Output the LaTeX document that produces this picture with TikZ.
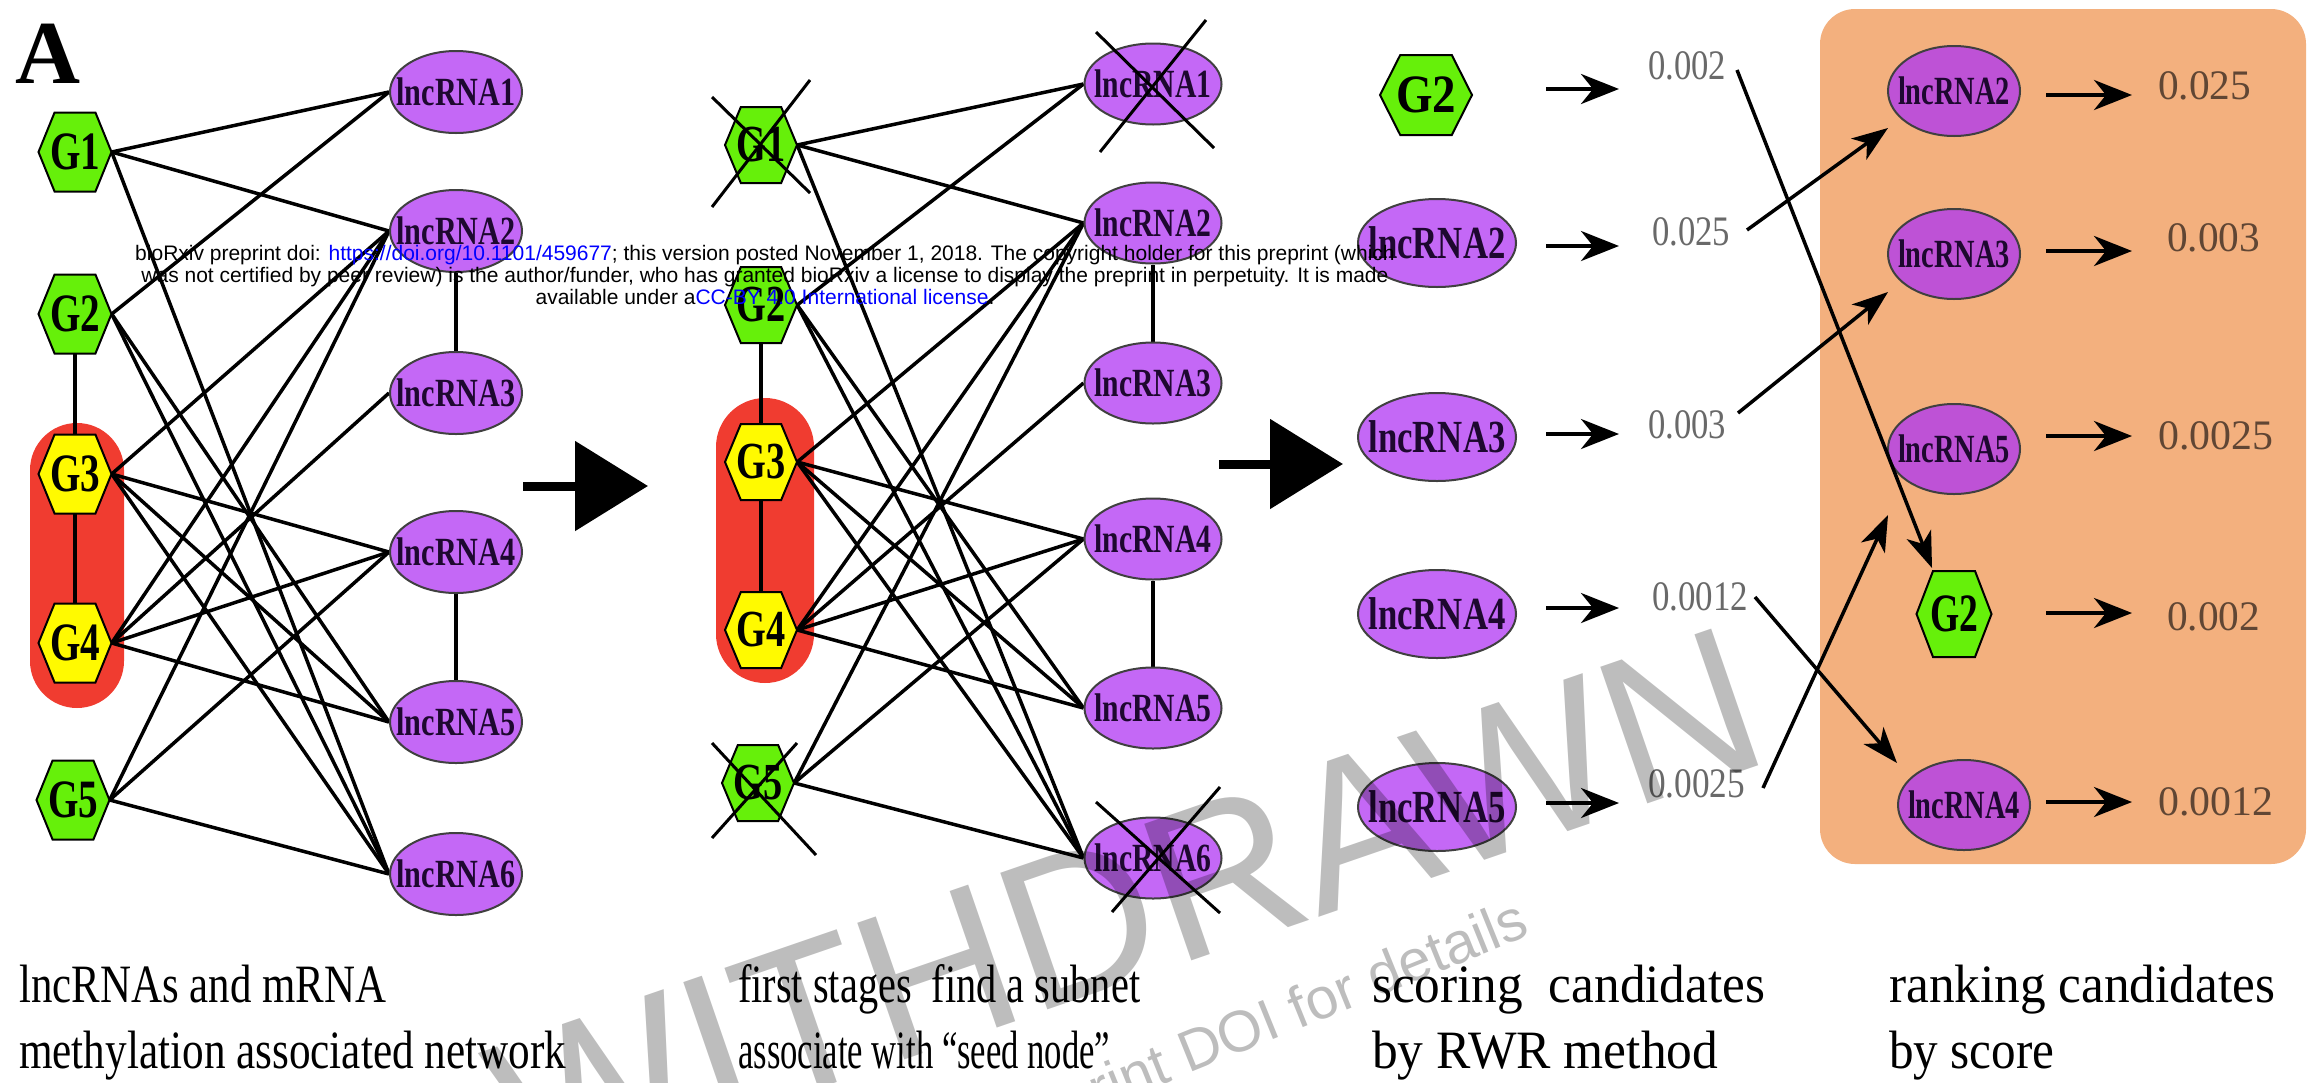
\documentclass[tikz,border=0pt]{standalone}
\usepackage{fontspec}
\setmainfont{Liberation Serif}
\newfontfamily\wmfont{Liberation Sans}
\usepackage{graphicx}
\usetikzlibrary{shapes.geometric,arrows.meta,calc,backgrounds}

\definecolor{hexgreen}{RGB}{102,240,10}
\definecolor{hexyellow}{RGB}{255,250,0}
\definecolor{seedred}{RGB}{240,60,48}
\definecolor{lncpurple}{RGB}{196,104,246}
\definecolor{lncpurpleB}{RGB}{190,82,214}
\definecolor{rankorange}{RGB}{243,176,126}
\definecolor{lnctext}{RGB}{30,8,48}
\definecolor{valgrey}{RGB}{105,105,105}
\definecolor{valbrown}{RGB}{96,70,52}
\definecolor{linkblue}{RGB}{0,0,255}

\newcommand\sq[2]{\resizebox{#1pt}{\height}{#2}}
\newcommand\gtxt[3]{\sq{#1}{\fontsize{#2}{#2}\selectfont\bfseries #3}}
\newcommand\ltxt[3]{\makebox[0pt]{\sq{#1}{\fontsize{#2}{#2}\selectfont\bfseries #3}}}
\newcommand\hexnode[7]{%
  \filldraw[hexline, fill=#6] ({#2-0.5*#4},#3) -- ({#2-0.28*#4},{#3-0.5*#5}) -- ({#2+0.28*#4},{#3-0.5*#5}) -- ({#2+0.5*#4},#3) -- ({#2+0.28*#4},{#3+0.5*#5}) -- ({#2-0.28*#4},{#3+0.5*#5}) -- cycle;
  \node[hexbox, minimum width=#4pt, minimum height=#5pt] (#1) at (#2,#3) {#7};
}

\begin{document}
\begin{tikzpicture}[x=1pt,y=-1pt,
  netedge/.style={line width=3.5pt, draw=black},
  ell/.style={ellipse, draw=black!75, line width=2pt, fill=lncpurple, inner sep=0pt, text=lnctext},
  ellB/.style={ell, fill=lncpurpleB},
  hexline/.style={draw=black, line width=2pt},
  hexbox/.style={inner sep=0pt, text=black},
  xline/.style={line width=3pt, draw=black},
  barrow/.style={line width=9pt, -{Triangle[length=73pt,width=88pt]}},
  sarrow/.style={line width=4pt, -{Stealth[length=38pt,width=30pt,inset=12pt]}},
  carrow/.style={line width=3.5pt, -{Stealth[length=36pt,width=26pt,inset=10pt]}},
  valtext/.style={anchor=west, inner sep=0pt, text=valgrey},
  valtextB/.style={anchor=west, inner sep=0pt, text=valbrown},
  captext/.style={anchor=base west, inner sep=0pt, text=black},
  stamp/.style={inner sep=0pt, text=black, text opacity=0.26}
]
\useasboundingbox (0,0) rectangle (2309,1082);

% ---------- panel label
\node[anchor=base west, inner sep=0pt, font=\bfseries\fontsize{90}{90}\selectfont] (lblA) at (15,83) {A};

% ---------- panel 1
\hexnode{ag1}{75}{152}{73}{79}{hexgreen}{\gtxt{50}{54}{G1}}
\hexnode{ag2}{75}{314}{73}{79}{hexgreen}{\gtxt{50}{54}{G2}}
\hexnode{ag3}{75}{474}{73}{79}{hexyellow}{\gtxt{50}{54}{G3}}
\hexnode{ag4}{75}{643}{73}{79}{hexyellow}{\gtxt{50}{54}{G4}}
\hexnode{ag5}{73}{800}{73}{79}{hexgreen}{\gtxt{50}{54}{G5}}
\node[ell, minimum width=132pt, minimum height=82pt] (al1) at (456,92) {\ltxt{119}{40}{lncRNA1}};
\node[ell, minimum width=132pt, minimum height=82pt] (al2) at (456,231) {\ltxt{119}{40}{lncRNA2}};
\node[ell, minimum width=132pt, minimum height=82pt] (al3) at (456,393) {\ltxt{119}{40}{lncRNA3}};
\node[ell, minimum width=132pt, minimum height=82pt] (al4) at (456,552) {\ltxt{119}{40}{lncRNA4}};
\node[ell, minimum width=132pt, minimum height=82pt] (al5) at (456,722) {\ltxt{119}{40}{lncRNA5}};
\node[ell, minimum width=132pt, minimum height=82pt] (al6) at (456,874) {\ltxt{119}{40}{lncRNA6}};

% ---------- panel 2
\hexnode{bg1}{761}{145}{72}{76}{hexgreen}{\gtxt{49}{52}{G1}}
\hexnode{bg2}{761}{305}{72}{76}{hexgreen}{\gtxt{49}{52}{G2}}
\hexnode{bg3}{761}{462}{72}{76}{hexyellow}{\gtxt{49}{52}{G3}}
\hexnode{bg4}{761}{630}{72}{76}{hexyellow}{\gtxt{49}{52}{G4}}
\hexnode{bg5}{758}{783}{72}{76}{hexgreen}{\gtxt{49}{52}{G5}}
\node[ell, minimum width=137pt, minimum height=81pt] (bl1) at (1153,84) {\ltxt{117}{40}{lncRNA1}};
\node[ell, minimum width=137pt, minimum height=81pt] (bl2) at (1153,223) {\ltxt{117}{40}{lncRNA2}};
\node[ell, minimum width=137pt, minimum height=81pt] (bl3) at (1153,383) {\ltxt{117}{40}{lncRNA3}};
\node[ell, minimum width=137pt, minimum height=81pt] (bl4) at (1153,539) {\ltxt{117}{40}{lncRNA4}};
\node[ell, minimum width=137pt, minimum height=81pt] (bl5) at (1153,708) {\ltxt{117}{40}{lncRNA5}};
\node[ell, minimum width=137pt, minimum height=81pt] (bl6) at (1153,858) {\ltxt{117}{40}{lncRNA6}};

% ---------- background: page, seed boxes, ranking box, network edges
\begin{scope}[on background layer]
  \fill[white] (0,0) rectangle (2309,1082);
  \fill[seedred, rounded corners=47pt] (30,423) rectangle (124,708);
  \fill[seedred, rounded corners=49pt] (716,398) rectangle (814,683);
  \fill[rankorange, rounded corners=35pt] (1820,9) rectangle (2306,864);
  \foreach \p in {a,b}{
    \foreach \g/\l in {1/1,1/2,1/6,2/1,2/5,2/6,3/2,3/4,3/5,3/6,4/2,4/3,4/4,4/5,5/2,5/4,5/6}
      \draw[netedge] (\p g\g.east) -- (\p l\l.west);
    \draw[netedge] (\p g2.south) -- (\p g3.north);
    \draw[netedge] (\p g3.south) -- (\p g4.north);
    \draw[netedge] (\p l2.south) -- (\p l3.north);
    \draw[netedge] (\p l4.south) -- (\p l5.north);
  }
\end{scope}

% ---------- crosses on removed nodes (panel 2)
\draw[xline] (712,97) -- (810,193);
\draw[xline] (712,207) -- (810,80);
\draw[xline] (1096,32) -- (1214,148);
\draw[xline] (1100,152) -- (1206,20);
\draw[xline] (712,743) -- (816,855);
\draw[xline] (712,838) -- (797,743);
\draw[xline] (1096,802) -- (1220,913);
\draw[xline] (1112,912) -- (1220,787);

% ---------- big step arrows
\coordinate (ba1s) at (523,486); \coordinate (ba1e) at (648,486);
\coordinate (ba2s) at (1219,464); \coordinate (ba2e) at (1343,464);
\draw[barrow] (ba1s) -- (ba1e);
\draw[barrow] (ba2s) -- (ba2e);

% ---------- panel 3 (scoring)
\hexnode{cg2}{1426}{95}{92}{80}{hexgreen}{\gtxt{60}{54}{G2}}
\node[ell, minimum width=158pt, minimum height=88pt] (cl2) at (1437,243) {\ltxt{137}{46}{lncRNA2}};
\node[ell, minimum width=158pt, minimum height=88pt] (cl3) at (1437,437) {\ltxt{137}{46}{lncRNA3}};
\node[ell, minimum width=158pt, minimum height=88pt] (cl4) at (1437,614) {\ltxt{137}{46}{lncRNA4}};
\node[ell, minimum width=158pt, minimum height=88pt] (cl5) at (1437,807) {\ltxt{137}{46}{lncRNA5}};
\foreach \n/\y in {1/89,2/246,3/434,4/608,5/803}{
  \coordinate (cs\n) at (1546,\y); \coordinate (ce\n) at (1619,\y);
  \draw[sarrow] (cs\n) -- (ce\n);
}
\node[valtext] (cv1) at (1648,66) {\sq{78}{\fontsize{42}{42}\selectfont 0.002}};
\node[valtext] (cv2) at (1652,232) {\sq{78}{\fontsize{42}{42}\selectfont 0.025}};
\node[valtext] (cv3) at (1648,425) {\sq{78}{\fontsize{42}{42}\selectfont 0.003}};
\node[valtext] (cv4) at (1652,597) {\sq{96}{\fontsize{42}{42}\selectfont 0.0012}};
\node[valtext] (cv5) at (1648,784) {\sq{97}{\fontsize{42}{42}\selectfont 0.0025}};

% ---------- panel 4 (ranking)
\node[ellB, minimum width=132pt, minimum height=90pt] (dl2) at (1954,91) {\ltxt{112}{40}{lncRNA2}};
\node[ellB, minimum width=132pt, minimum height=90pt] (dl3) at (1954,254) {\ltxt{112}{40}{lncRNA3}};
\node[ellB, minimum width=132pt, minimum height=90pt] (dl5) at (1954,449) {\ltxt{112}{40}{lncRNA5}};
\hexnode{dg2}{1954}{614}{75}{86}{hexgreen}{\gtxt{48}{54}{G2}}
\node[ellB, minimum width=132pt, minimum height=90pt] (dl4) at (1964,805) {\ltxt{112}{40}{lncRNA4}};
\foreach \n/\y in {1/95,2/251,3/436,4/613,5/802}{
  \coordinate (ds\n) at (2046,\y); \coordinate (de\n) at (2132,\y);
  \draw[sarrow] (ds\n) -- (de\n);
}
\node[valtextB] (dv1) at (2158,86) {\sq{93}{\fontsize{42}{42}\selectfont 0.025}};
\node[valtextB] (dv2) at (2167,238) {\sq{93}{\fontsize{42}{42}\selectfont 0.003}};
\node[valtextB] (dv3) at (2158,436) {\sq{115}{\fontsize{42}{42}\selectfont 0.0025}};
\node[valtextB] (dv4) at (2167,617) {\sq{93}{\fontsize{42}{42}\selectfont 0.002}};
\node[valtextB] (dv5) at (2158,802) {\sq{115}{\fontsize{42}{42}\selectfont 0.0012}};

% ---------- score -> rank connectors
\coordinate (k1s) at (1737,70);  \coordinate (k1e) at (1932,568);
\coordinate (k2s) at (1747,230); \coordinate (k2e) at (1888,128);
\coordinate (k3s) at (1738,413); \coordinate (k3e) at (1888,292);
\coordinate (k4s) at (1755,597); \coordinate (k4e) at (1897,763);
\coordinate (k5s) at (1763,788); \coordinate (k5e) at (1888,515);
\foreach \n in {1,...,5} \draw[carrow] (k\n s) -- (k\n e);

% ---------- captions
\node[captext] (t1a) at (19,1002) {\sq{367}{\fontsize{54}{54}\selectfont lncRNAs and mRNA}};
\node[captext] (t1b) at (19,1068) {\sq{547}{\fontsize{54}{54}\selectfont methylation associated network}};
\node[captext] (t2a) at (738,1002) {\sq{402}{\fontsize{54}{54}\selectfont first stages\ \ find a subnet}};
\node[captext] (t2b) at (738,1068) {\sq{372}{\fontsize{54}{54}\selectfont associate with “seed node”}};
\node[captext] (t3a) at (1372,1002) {\sq{393}{\fontsize{54}{54}\selectfont scoring\ \ candidates}};
\node[captext] (t3b) at (1372,1068) {\sq{346}{\fontsize{54}{54}\selectfont by RWR method}};
\node[captext] (t4a) at (1889,1002) {\sq{386}{\fontsize{54}{54}\selectfont ranking candidates}};
\node[captext] (t4b) at (1889,1068) {\sq{165}{\fontsize{54}{54}\selectfont by score}};

% ---------- overlays (preprint stamp)
\node[anchor=base, inner sep=0pt, font=\wmfont\fontsize{21}{21}\selectfont] (hd1) at (765,260) {bioRxiv preprint doi: \textcolor{linkblue}{https://doi.org/10.1101/459677}; this version posted November 1, 2018. The copyright holder for this preprint (which};
\node[anchor=base, inner sep=0pt, font=\wmfont\fontsize{21}{21}\selectfont] (hd2) at (765,282) {was not certified by peer review) is the author/funder, who has granted bioRxiv a license to display the preprint in perpetuity. It is made};
\node[anchor=base, inner sep=0pt, font=\wmfont\fontsize{21}{21}\selectfont] (hd3) at (765,304) {available under a\textcolor{linkblue}{CC-BY 4.0 International license}.};
\node[stamp, rotate=19, font=\wmfont\fontsize{210}{210}\selectfont] (wd1) at (1126,907) {WITHDRAWN};
\node[stamp, rotate=22, anchor=base east, font=\wmfont\fontsize{58}{58}\selectfont] (wd2) at (1532,935) {See preprint DOI for details};
\end{tikzpicture}
\end{document}
